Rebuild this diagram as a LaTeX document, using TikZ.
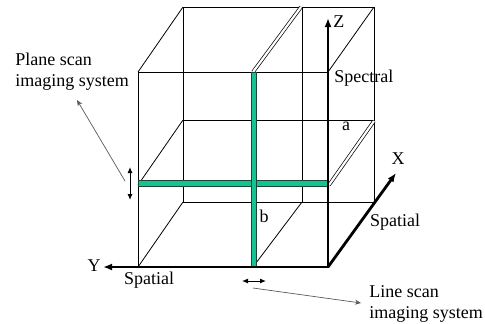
\documentclass[tikz,border=0pt]{standalone}
\usepackage{fontspec}
\setmainfont{Liberation Serif}
\usetikzlibrary{arrows.meta}
\definecolor{slabgreen}{RGB}{20,195,145}
\definecolor{slabedge}{RGB}{30,70,55}

\begin{document}
\begin{tikzpicture}[x=0.5pt,y=-0.5pt,
    cube/.style={black, line width=0.4pt},
    slab/.style={fill=slabgreen, draw=slabedge, line width=0.5pt},
    slabedge/.style={double, double distance=1.1pt, line width=0.35pt},
    axis/.style={line width=1.4pt, -{Latex[length=4.5pt,width=3.5pt]}},
    scanarrow/.style={line width=0.5pt, {Latex[length=3pt,width=2.5pt]}-{Latex[length=3pt,width=2.5pt]}},
    pointer/.style={gray!70!black, line width=0.35pt, -{Stealth[length=3pt,width=2.5pt]}},
    lbl/.style={font=\fontsize{9}{10.5}\selectfont, inner sep=0pt}]
    \useasboundingbox (0,0) rectangle (485,323);

    % 1. Back face and its divisions
    \draw[cube] (183,7) rectangle (374,202);
    \draw[cube] (183,120) -- (374,120);
    \draw[cube] (302,7) -- (302,202);

    % 2. Depth edges
    \draw[cube] (138,72) -- (183,7);
    \draw[cube] (328,72) -- (374,7);
    \draw[cube] (138,185) -- (183,120);
    \draw[cube] (138,267) -- (183,202);
    \draw[cube] (253,267) -- (302,202);
    \draw[slabedge] (253,72) -- (301,7);
    \draw[slabedge] (329,185) -- (374,121);

    % 3. Front face
    \draw[cube] (138,72) rectangle (328,267);

    % 4. The two green slabs
    \draw[slab] (138,180) rectangle (328,186);
    \draw[slab] (251,72) rectangle (256,267);

    % 5. Axes
    \coordinate (O) at (328,267);
    \draw[axis] (O) -- (328,18) coordinate (zend);
    \draw[axis] (O) -- (103,267) coordinate (yend);
    \draw[axis] (O) -- (396,173) coordinate (xend);

    % 6. Axis labels
    \node[lbl, anchor=west] (zlbl) at (333,22) {Z};
    \node[lbl, anchor=east] (ylbl) at (101,266) {Y};
    \node[lbl] (xlbl) at (398,159) {X};
    \node[lbl, anchor=west] (spectral) at (334,78) {Spectral};
    \node[lbl] (spatialx) at (395,222) {Spatial};
    \node[lbl] (spatialy) at (149,280) {Spatial};
    \node[lbl] (albl) at (346,126) {a};
    \node[lbl] (blbl) at (264,216) {b};

    % 7. Scan directions
    \draw[scanarrow] (130,167) -- (130,200);
    \draw[scanarrow] (242,281) -- (266,281);

    % 8. Imaging system notes
    \node[lbl, anchor=west, align=left] (plane) at (15,72) {Plane scan\\imaging system};
    \node[lbl, anchor=west, align=left] (line) at (369,304) {Line scan\\imaging system};
    \coordinate (planefoot) at (125,181);
    \coordinate (linefoot) at (253,288);
    \draw[pointer] (planefoot) -- (77,100);
    \draw[pointer] (linefoot) -- (361,303);
\end{tikzpicture}
\end{document}
